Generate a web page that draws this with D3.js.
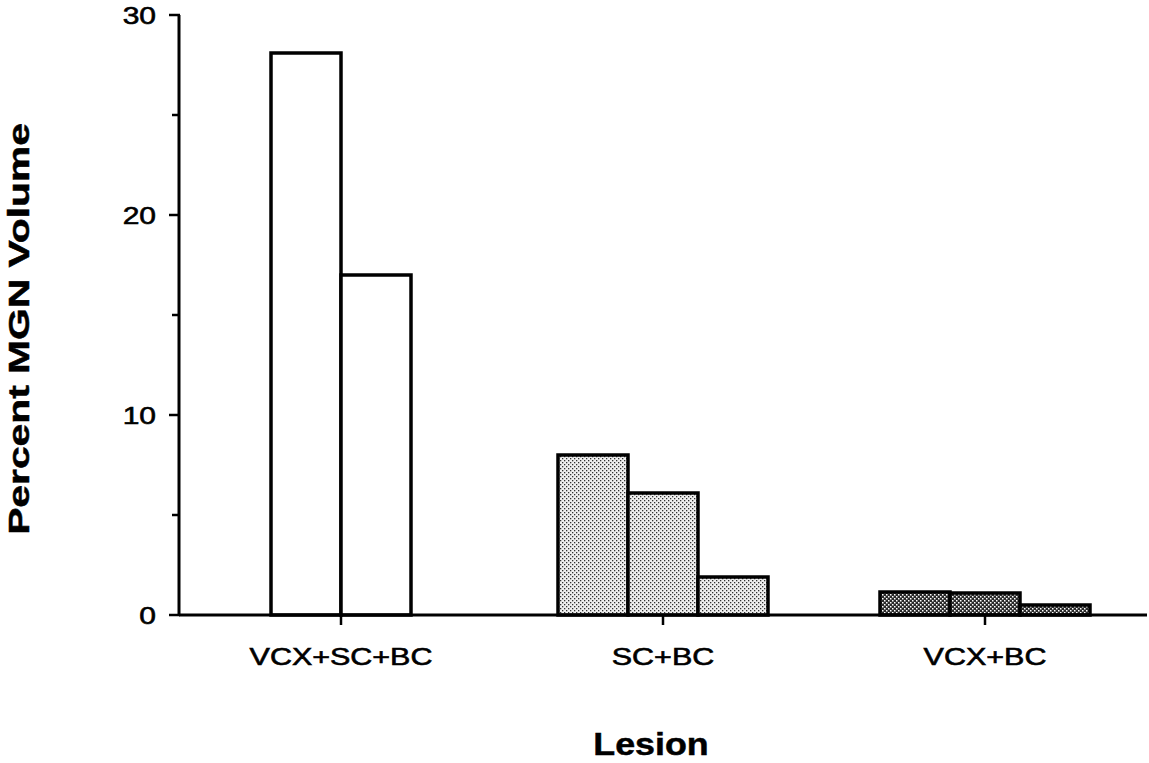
<!DOCTYPE html>
<html>
<head>
<meta charset="utf-8">
<script src="https://cdn.jsdelivr.net/npm/d3@7"></script>
<style>
  html, body { margin: 0; padding: 0; background: #fff; }
  svg { display: block; }
  text { font-family: "Liberation Sans", Arial, Helvetica, sans-serif; fill: #000; }
</style>
</head>
<body>
<svg id="chart" width="1149" height="763"></svg>
<script>
// ---- data ----
const categories = ["VCX+SC+BC", "SC+BC", "VCX+BC"];
const series1 = [28.1, 8.0, 1.15];
const series2 = [17.0, 6.1, 1.1];
const series3 = [null, 1.9, 0.5];
const yTicks = [0, 10, 20, 30];
const yMinorTicks = [5, 15, 25];
const xTitle = "Lesion";
const yTitle = "Percent MGN Volume";

// ---- layout ----
const W = 1149, H = 763;
const x0 = 180, x1 = 1146, yTop = 15, yBot = 615;
const barW = 70;
const svg = d3.select("#chart");

const defs = svg.append("defs");
const p1 = defs.append("pattern").attr("id", "lightDots").attr("patternUnits", "userSpaceOnUse")
  .attr("width", 4).attr("height", 4);
p1.append("rect").attr("width", 4).attr("height", 4).attr("fill", "#f0f0f0");
p1.append("rect").attr("x", 0).attr("y", 0).attr("width", 1.3).attr("height", 1.3).attr("fill", "#333");
p1.append("rect").attr("x", 2).attr("y", 2).attr("width", 1.3).attr("height", 1.3).attr("fill", "#333");

const p2 = defs.append("pattern").attr("id", "darkDots").attr("patternUnits", "userSpaceOnUse")
  .attr("width", 4).attr("height", 4);
p2.append("rect").attr("width", 4).attr("height", 4).attr("fill", "#2a2a2a");
p2.append("rect").attr("x", 0).attr("y", 0).attr("width", 1.5).attr("height", 1.5).attr("fill", "#fff");
p2.append("rect").attr("x", 2).attr("y", 2).attr("width", 1.5).attr("height", 1.5).attr("fill", "#fff");

const fills = ["#fff", "url(#lightDots)", "url(#darkDots)"];

const x = d3.scaleBand().domain(categories).range([x0, x1]).padding(0);
const y = d3.scaleLinear().domain([0, 30]).range([yBot, yTop]);

// bars
categories.forEach((cat, ci) => {
  const vals = [series1[ci], series2[ci], series3[ci]].filter(v => v != null);
  const center = x(cat) + x.bandwidth() / 2;
  const sub = d3.scaleBand().domain(d3.range(vals.length))
    .range([center - vals.length * barW / 2, center + vals.length * barW / 2]).padding(0);
  svg.append("g").selectAll("rect").data(vals).join("rect")
    .attr("x", (d, i) => sub(i))
    .attr("y", d => y(d))
    .attr("width", sub.bandwidth())
    .attr("height", d => y(0) - y(d))
    .attr("fill", fills[ci])
    .attr("stroke", "#000")
    .attr("stroke-width", 3.5);
});

// y axis
const yAxis = svg.append("g");
yAxis.append("line").attr("x1", x0 - 1).attr("x2", x0 - 1).attr("y1", yTop).attr("y2", yBot + 1)
  .attr("stroke", "#000").attr("stroke-width", 3);
yAxis.selectAll(".maj").data(yTicks).join("line")
  .attr("x1", x0 - 11).attr("x2", x0).attr("y1", d => y(d)).attr("y2", d => y(d))
  .attr("stroke", "#000").attr("stroke-width", 2.5);
yAxis.selectAll(".min").data(yMinorTicks).join("line")
  .attr("x1", x0 - 8).attr("x2", x0).attr("y1", d => y(d)).attr("y2", d => y(d))
  .attr("stroke", "#000").attr("stroke-width", 2.5);
yAxis.selectAll("text").data(yTicks).join("text")
  .attr("transform", d => `translate(${x0 - 24},${y(d) + 9}) scale(1.25,1)`)
  .attr("text-anchor", "end")
  .attr("font-size", 24)
  .attr("stroke", "#000").attr("stroke-width", 0.6)
  .text(d => d);

// x axis
const xAxis = svg.append("g");
xAxis.append("line").attr("x1", x0 - 1).attr("x2", x1 + 1).attr("y1", yBot).attr("y2", yBot)
  .attr("stroke", "#000").attr("stroke-width", 3);
xAxis.selectAll(".tk").data(categories).join("line")
  .attr("x1", d => x(d) + x.bandwidth() / 2).attr("x2", d => x(d) + x.bandwidth() / 2)
  .attr("y1", yBot).attr("y2", yBot + 10)
  .attr("stroke", "#000").attr("stroke-width", 2.5);
xAxis.selectAll("text").data(categories).join("text")
  .attr("transform", d => `translate(${x(d) + x.bandwidth() / 2},${yBot + 50}) scale(1.27,1)`)
  .attr("text-anchor", "middle")
  .attr("font-size", 24)
  .attr("stroke", "#000").attr("stroke-width", 0.6)
  .text(d => d);

// titles
svg.append("text")
  .attr("transform", `translate(${(x0 + x1) / 2 - 12},${755}) scale(1.12,1)`)
  .attr("text-anchor", "middle")
  .attr("font-size", 32)
  .attr("font-weight", "bold")
  .attr("stroke", "#000").attr("stroke-width", 0.5)
  .text(xTitle);

svg.append("text")
  .attr("transform", `translate(29,${329}) rotate(-90) scale(1.36,1)`)
  .attr("text-anchor", "middle")
  .attr("font-size", 30)
  .attr("font-weight", "bold")
  .attr("stroke", "#000").attr("stroke-width", 0.5)
  .text(yTitle);
</script>
</body>
</html>
